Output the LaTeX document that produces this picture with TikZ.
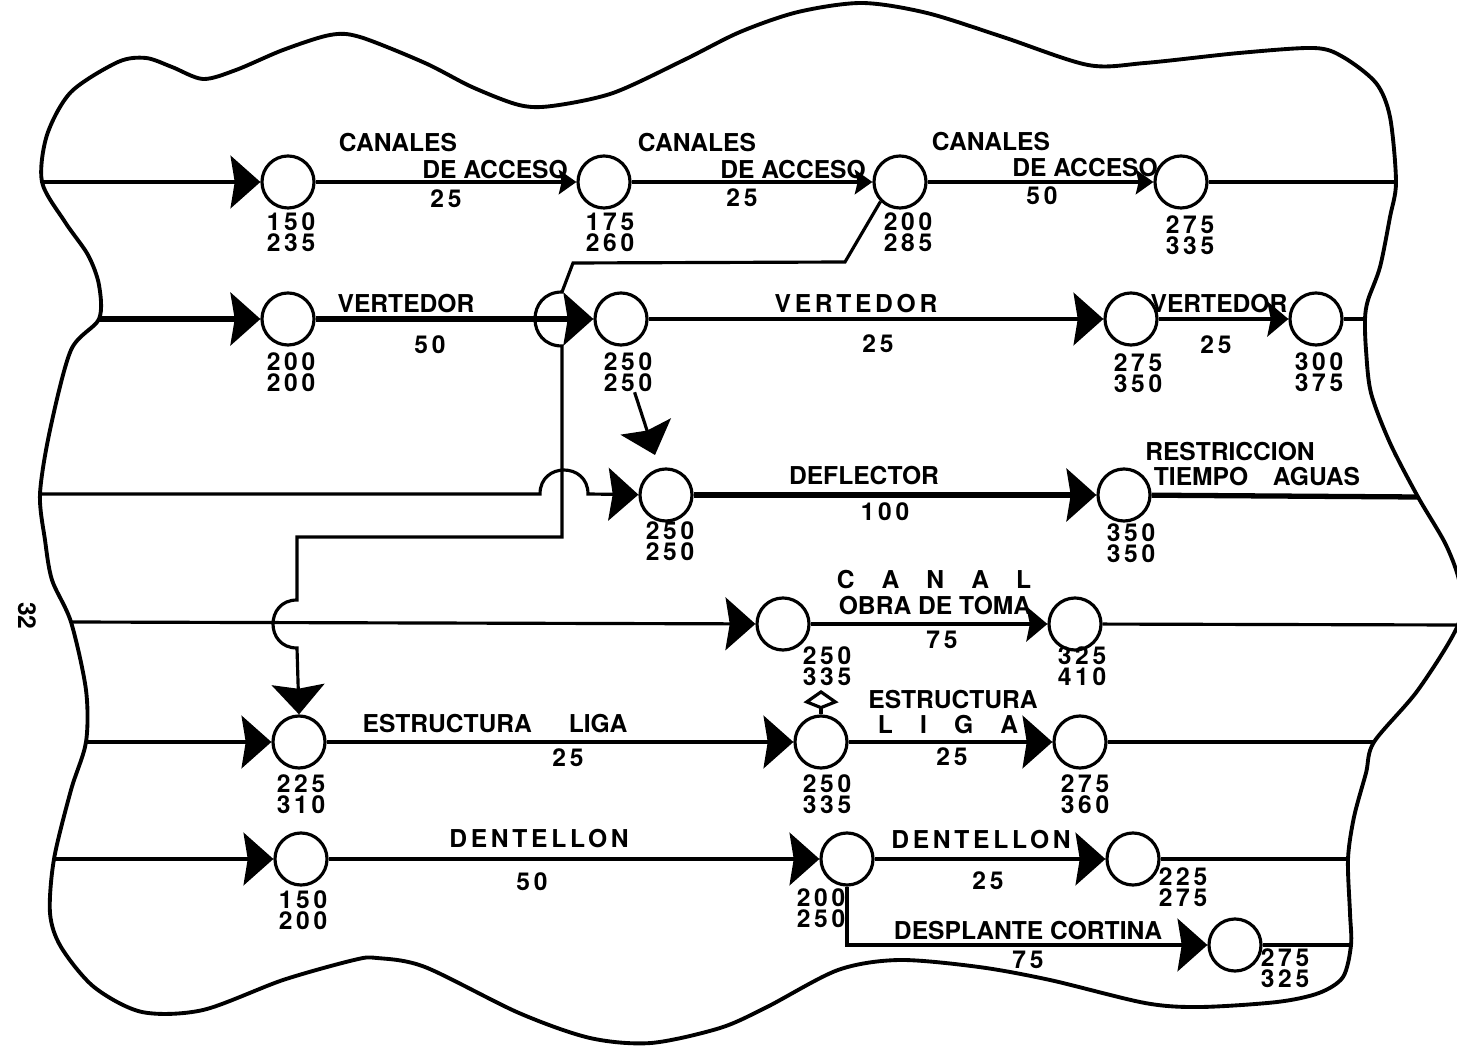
\documentclass[tikz,border=0pt]{standalone}
\usepackage{fontspec}
\newfontfamily\lbl{TeX Gyre Heros}
\newfontfamily\lbls{TeX Gyre Heros}[LetterSpace=15]
\usetikzlibrary{arrows.meta}
\newcommand\lgap{\hspace{1.1em}}

\begin{document}
\begin{tikzpicture}[x=0.01cm,y=-0.01cm,
  ev/.style={circle,draw,line width=0.9pt,minimum size=0.52cm,inner sep=0pt},
  txt/.style={font=\lbl\bfseries\fontsize{7}{8}\selectfont,inner sep=0pt},
  num/.style={font=\lbls\bfseries\fontsize{7}{6}\selectfont,align=center,inner sep=0pt},
  act/.style={line width=0.9pt},
  heavy/.style={line width=1.5pt},
  bigarr/.style={act,-{Stealth[length=8.5pt,width=15pt,inset=1.2pt]}},
  medarr/.style={act,-{Stealth[length=6pt,width=10pt,inset=1pt]}},
  smallarr/.style={act,-{Stealth[length=5pt,width=7pt,inset=0.8pt]}},
  openarr/.style={act,-{Kite[open,length=5.5pt,width=10pt,inset=2pt]}},
  rim/.style={line width=1.1pt}]
  \useasboundingbox (0,0) rectangle (1457,1046);
  % ends of the rows on the outline
  \coordinate (b1w) at (42,182);   \coordinate (b1e) at (1396,182);
  \coordinate (b2w) at (99,319);   \coordinate (b2e) at (1365,319);
  \coordinate (b3w) at (40,494);   \coordinate (b3e) at (1418,497);
  \coordinate (b4w) at (71,622);   \coordinate (b4e) at (1458,625);
  \coordinate (b5w) at (86,742);   \coordinate (b5e) at (1374,742);
  \coordinate (b6w) at (54,859);   \coordinate (b6e) at (1348,859);
  \coordinate (b7e) at (1351,945);
  % wavy outline
  \draw[rim] plot[smooth cycle,tension=0.5] coordinates {
    (b1w) (47,135) (71,92) (118,62) (146,58) (172,67) (203,79) (236,70)
    (283,50) (330,35) (360,37) (425,63) (472,87) (519,105) (552,106)
    (613,93) (684,60) (740,32) (798,12) (862,3) (927,13) (1003,37)
    (1088,65) (1145,63) (1239,53) (1314,48) (1343,57) (1376,83) (1390,117)
    (b1e) (1390,217) (1380,267) (1368,300) (b2e) (1366,350) (1371,393)
    (1390,443) (b3e) (1446,545) (1460,585) (b4e) (1418,690) (b5e)
    (1366,773) (1354,817) (b6e) (1350,913) (b7e) (1343,977) (1319,993)
    (1277,1002) (1200,1007) (1145,1003) (1050,980) (979,967) (899,960)
    (838,970) (767,1007) (720,1028) (651,1043) (590,1038) (519,1013)
    (425,967) (377,958) (354,960) (283,980) (203,1010) (142,1012)
    (94,987) (61,947) (50,913) (b6w) (71,790) (b5w) (86,690) (b4w)
    (52,580) (45,540) (b3w) (50,430) (71,350) (b2w) (99,285) (88,255)
    (65,222)};
  \node[txt,rotate=-90] (pg) at (27,616) {32};

  % events
  \node[ev] (n1a) at (288,182) {};
  \node[ev] (n1b) at (604,182) {};
  \node[ev] (n1c) at (900,182) {};
  \node[ev] (n1d) at (1181,182) {};
  \node[ev] (n2a) at (288,319) {};
  \node[ev] (n2b) at (621,319) {};
  \node[ev] (n2c) at (1131,319) {};
  \node[ev] (n2d) at (1316,319) {};
  \node[ev] (n3a) at (666,495) {};
  \node[ev] (n3b) at (1124,495) {};
  \node[ev] (n4a) at (783,624) {};
  \node[ev] (n4b) at (1075,624) {};
  \node[ev] (n5a) at (299,742) {};
  \node[ev] (n5b) at (821,742) {};
  \node[ev] (n5c) at (1080,742) {};
  \node[ev] (n6a) at (301,859) {};
  \node[ev] (n6b) at (847,859) {};
  \node[ev] (n6c) at (1133,859) {};
  \node[ev] (n7a) at (1235,945) {};

  % early / late times
  \node[num] (n1at) at (291,232) {150\\235};
  \node[num] (n1bt) at (610,232) {175\\260};
  \node[num] (n1ct) at (908,232) {200\\285};
  \node[num] (n1dt) at (1190,235) {275\\335};
  \node[num] (n2at) at (291,372) {200\\200};
  \node[num] (n2bt) at (628,372) {250\\250};
  \node[num] (n2ct) at (1138,373) {275\\350};
  \node[num] (n2dt) at (1319,372) {300\\375};
  \node[num] (n3at) at (670,541) {250\\250};
  \node[num] (n3bt) at (1131,543) {350\\350};
  \node[num] (n4at) at (827,666) {250\\335};
  \node[num] (n4bt) at (1082,666) {325\\410};
  \node[num] (n5at) at (301,794) {225\\310};
  \node[num] (n5bt) at (827,794) {250\\335};
  \node[num] (n5ct) at (1085,794) {275\\360};
  \node[num] (n6at) at (303,910) {150\\200};
  \node[num] (n6bt) at (821,908) {200\\250};
  \node[num] (n6ct) at (1183,887) {225\\275};
  \node[num] (n7at) at (1285,968) {275\\325};

  % row 1: canales de acceso
  \draw[bigarr] (b1w) -- (n1a);
  \draw[smallarr] (n1a) -- (n1b);
  \draw[smallarr] (n1b) -- (n1c);
  \draw[smallarr] (n1c) -- (n1d);
  \draw[act] (n1d) -- (b1e);
  \node[txt] (l1a) at (398,143) {CANALES};
  \node[txt] (l1b) at (495,170) {DE ACCESO};
  \node[num] (d1a) at (446,199) {25};
  \node[txt] (l1c) at (697,143) {CANALES};
  \node[txt] (l1d) at (793,170) {DE ACCESO};
  \node[num] (d1b) at (742,198) {25};
  \node[txt] (l1e) at (991,142) {CANALES};
  \node[txt] (l1f) at (1085,168) {DE ACCESO};
  \node[num] (d1c) at (1042,196) {50};

  % row 2: vertedor
  \draw[bigarr,heavy] (b2w) -- (n2a);
  \draw[bigarr,heavy] (n2a) -- (n2b);
  \draw[bigarr] (n2b) -- (n2c);
  \draw[medarr] (n2c) -- (n2d);
  \draw[act] (n2d) -- (b2e);
  \node[txt] (l2a) at (406,304) {VERTEDOR};
  \node[num] (d2a) at (430,345) {50};
  \node[txt,font=\lbls\bfseries\fontsize{7}{8}\selectfont] (l2b) at (856,304) {VERTEDOR};
  \node[num] (d2b) at (878,344) {25};
  \node[txt] (l2c) at (1219,304) {VERTEDOR};
  \node[num] (d2c) at (1216,345) {25};

  % row 3: deflector, with a hop over the long link
  \draw[bigarr] (b3w) -- (540,494) .. controls (540,462) and (588,462) .. (588,494) -- (n3a);
  \draw[bigarr,heavy] (n3a) -- (n3b);
  \draw[heavy] (n3b) -- (b3e);
  \coordinate (d23) at (655,455);
  \draw[bigarr] (n2bt) -- (d23);
  \node[txt] (l3a) at (864,476) {DEFLECTOR};
  \node[num] (d3a) at (885,512) {100};
  \node[txt] (l3b) at (1230,452) {RESTRICCION};
  \node[txt] (l3c) at (1257,477) {TIEMPO\hspace{1em}AGUAS};

  % row 4: canal obra de toma
  \draw[bigarr] (b4w) -- (n4a);
  \draw[medarr] (n4a) -- (n4b);
  \draw[act] (n4b) -- (b4e);
  \node[txt] (l4a) at (934,580) {C\lgap A\lgap N\lgap A\lgap L};
  \node[txt] (l4b) at (935,606) {OBRA DE TOMA};
  \node[num] (d4a) at (942,640) {75};

  % long link from 200/285 down to 225/310
  \draw[bigarr] (n1c.south west) -- (845,262) -- (573,263) -- (562,292)
    .. controls (526,292) and (526,346) .. (562,346) -- (562,537) -- (297,537)
    -- (297,600) .. controls (265,600) and (265,648) .. (297,648) -- (n5a.north);

  % row 5: estructura liga
  \draw[bigarr] (b5w) -- (n5a);
  \draw[bigarr] (n5a) -- (n5b);
  \draw[bigarr] (n5b) -- (n5c);
  \draw[act] (n5c) -- (b5e);
  \coordinate (u5) at (821,690);
  \draw[openarr] (n5b) -- (u5);
  \node[txt] (l5a) at (495,724) {ESTRUCTURA\hspace{1.5em}LIGA};
  \node[num] (d5a) at (568,758) {25};
  \node[txt] (l5b) at (953,700) {ESTRUCTURA};
  \node[txt] (l5c) at (948,725) {L\lgap I\lgap G\lgap A};
  \node[num] (d5b) at (952,757) {25};

  % row 6: dentellon, row 7: desplante cortina
  \draw[bigarr] (b6w) -- (n6a);
  \draw[bigarr] (n6a) -- (n6b);
  \draw[bigarr] (n6b) -- (n6c);
  \draw[act] (n6c) -- (b6e);
  \draw[bigarr] (n6b.south) |- (n7a);
  \draw[act] (n7a) -- (b7e);
  \node[txt,font=\lbls\bfseries\fontsize{7}{8}\selectfont] (l6a) at (539,839) {DENTELLON};
  \node[num] (d6a) at (532,882) {50};
  \node[txt,font=\lbls\bfseries\fontsize{7}{8}\selectfont] (l6b) at (981,840) {DENTELLON};
  \node[num] (d6b) at (988,881) {25};
  \node[txt] (l7a) at (1028,931) {DESPLANTE CORTINA};
  \node[num] (d7a) at (1028,960) {75};
\end{tikzpicture}
\end{document}
